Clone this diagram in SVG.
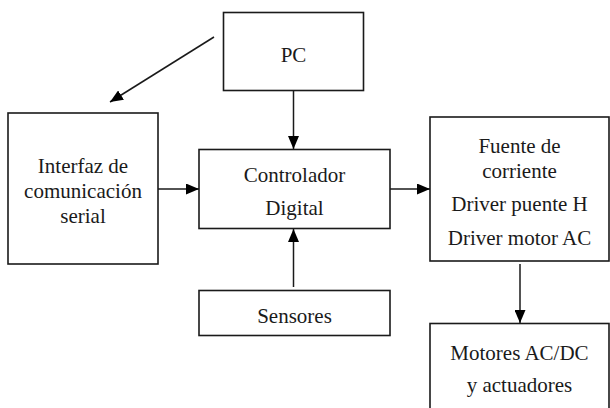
<svg xmlns="http://www.w3.org/2000/svg" width="610" height="408" viewBox="0 0 610 408">
<style>
.box{fill:#fff;stroke:#1a1a1a;stroke-width:1.6}
.t{font-family:"Liberation Serif","Times New Roman",serif;font-size:21px;fill:#1a1a1a;text-anchor:middle}
.c{stroke:#1a1a1a;stroke-width:1.5;fill:none;marker-end:url(#ah)}
</style>
<defs>
<marker id="ah" viewBox="0 0 13 11" refX="13" refY="5.5" markerWidth="13" markerHeight="11" markerUnits="userSpaceOnUse" orient="auto">
<path d="M0,0 L13,5.5 L0,11 z" fill="#000"/>
</marker>
</defs>
<g id="pc"><rect class="box" x="223.5" y="12.5" width="140" height="78"/><text class="t" x="293.5" y="62">PC</text></g>
<g id="interfaz"><rect class="box" x="8" y="113" width="150" height="151"/>
<text class="t" x="83" y="173">Interfaz de</text><text class="t" x="83" y="198">comunicación</text><text class="t" x="83" y="223">serial</text></g>
<g id="controlador"><rect class="box" x="199" y="149.5" width="191" height="79"/>
<text class="t" x="294.5" y="182">Controlador</text><text class="t" x="294.5" y="215">Digital</text></g>
<g id="fuente"><rect class="box" x="430" y="117" width="179" height="144"/>
<text class="t" x="519.5" y="153">Fuente de</text><text class="t" x="519.5" y="178">corriente</text>
<text class="t" x="519.5" y="211">Driver puente H</text><text class="t" x="519.5" y="245">Driver motor AC</text></g>
<g id="sensores"><rect class="box" x="199" y="290.5" width="191" height="45"/><text class="t" x="294.5" y="323">Sensores</text></g>
<g id="motores"><rect class="box" x="430" y="323.5" width="179" height="90"/>
<text class="t" x="519.5" y="360">Motores AC/DC</text><text class="t" x="519.5" y="392">y actuadores</text></g>
<g id="connectors">
<line class="c" x1="214" y1="37" x2="110" y2="102"/>
<line class="c" x1="293.5" y1="90.5" x2="293.5" y2="149"/>
<line class="c" x1="158" y1="189" x2="199" y2="189"/>
<line class="c" x1="390" y1="189" x2="430" y2="189"/>
<line class="c" x1="293.5" y1="287" x2="293.5" y2="229"/>
<line class="c" x1="520" y1="264" x2="520" y2="323"/>
</g>
</svg>
